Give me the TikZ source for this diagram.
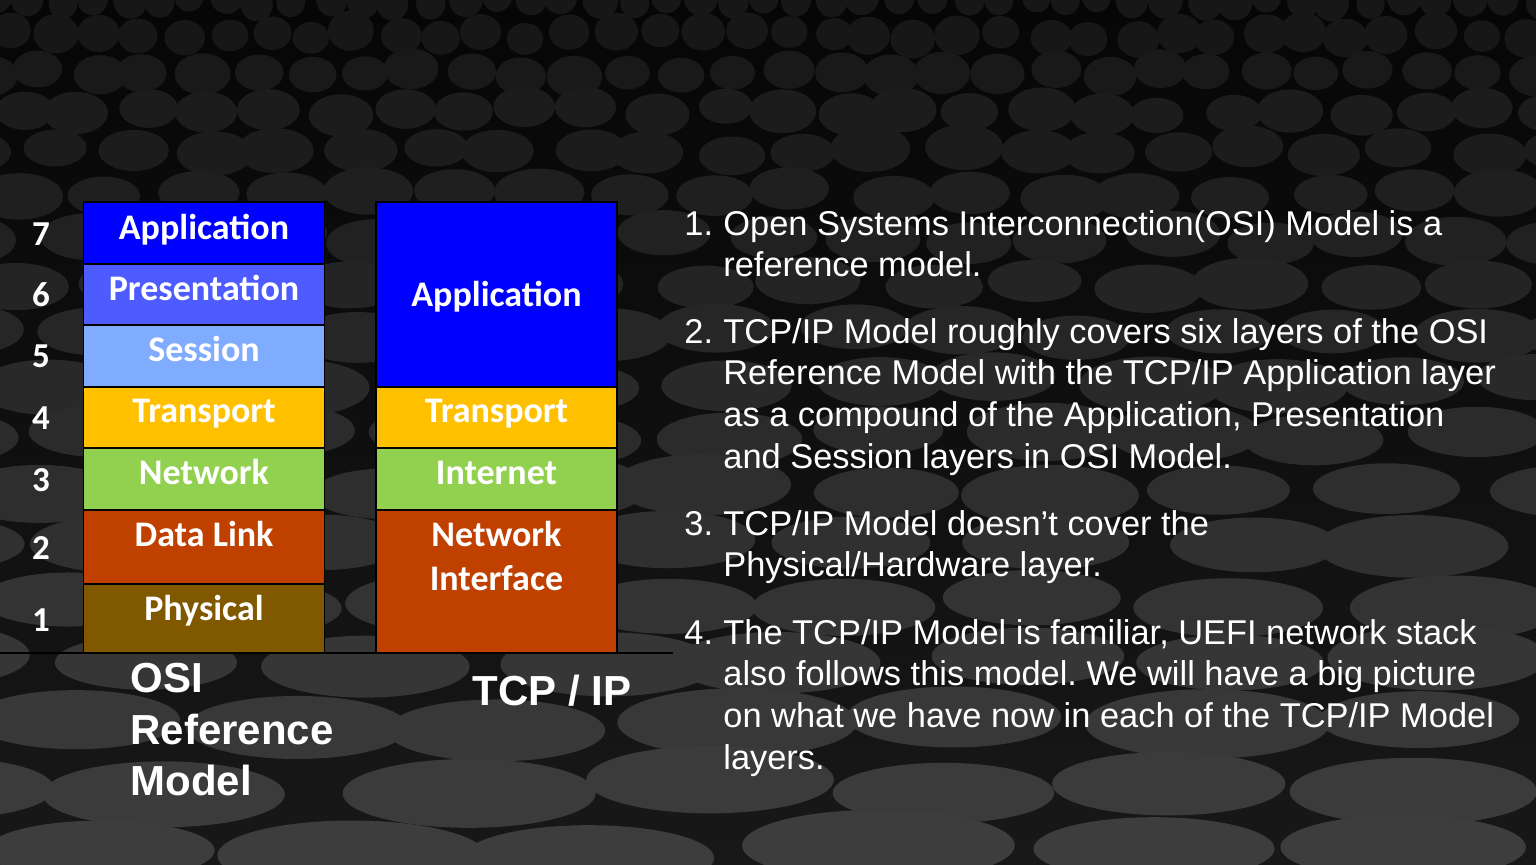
\documentclass[tikz,border=0pt]{standalone}
\usepackage{fontspec}
\setmainfont{Liberation Sans}
\newfontfamily\calfont{Carlito}
\frenchspacing
\begin{document}
% one unit = one pixel of a 1536 x 864 slide, y grows downwards
\begin{tikzpicture}[x=0.5pt,y=-0.5pt,
  layerbox/.style={draw=black, line width=0.6pt, inner sep=0pt, outer sep=0pt, minimum width=120.5pt},
  layertext/.style={text=white, font=\calfont\bfseries\fontsize{18}{21}\selectfont, anchor=base, inner sep=0pt},
  numtext/.style={text=white, font=\calfont\bfseries\fontsize{17.5}{21}\selectfont, anchor=base, inner sep=0pt},
  captext/.style={text=white, font=\bfseries\fontsize{21}{25.7}\selectfont, anchor=base west, inner sep=0pt},
  itemnum/.style={text=white, font=\fontsize{17.2}{20.85}\selectfont, anchor=base west, inner sep=0pt},
  itembody/.style={text=white, anchor=base west, inner sep=0pt}]
\definecolor{appblue}{HTML}{0000FF}
\definecolor{presblue}{HTML}{4D5BFF}
\definecolor{sessblue}{HTML}{80ACFF}
\definecolor{transyellow}{HTML}{FFC000}
\definecolor{netgreen}{HTML}{92D050}
\definecolor{linkred}{HTML}{C04000}
\definecolor{physbrown}{HTML}{7F5800}
\definecolor{bgtop}{HTML}{060606}
\definecolor{bgbottom}{HTML}{181818}

% ---- textured backdrop: rows of discs growing towards the viewer ----
\useasboundingbox (0,0) rectangle (1536,864);
\begin{scope}
\clip (0,0) rectangle (1536,864);
\shade[top color=bgtop, bottom color=bgbottom] (0,0) rectangle (1536,864);
\pgfmathsetseed{4711}
\foreach \k in {0,...,19}{
  \pgfmathsetmacro\yy{34*\k+0.95*\k*\k}
  \pgfmathsetmacro\ry{0.5*(34+1.9*\k)}
  \pgfmathsetmacro\rx{16+0.13*\yy}
  \pgfmathtruncatemacro\g{9+16*\yy/864}
  \pgfmathtruncatemacro\nc{1536/(2.1*\rx)+2}
  \pgfmathsetmacro\shift{mod(\k,2)*1.05*\rx-0.5*\rx}
  \foreach \c in {0,...,\nc}{
    \pgfmathsetmacro\jx{\c*2.1*\rx+\shift+0.3*\rx*rand}
    \pgfmathsetmacro\jy{\yy+0.25*\ry*rand}
    \pgfmathsetmacro\sc{1+0.12*rand}
    \fill[white!\g!black] (\jx,\jy) ellipse [x radius=\sc*\rx, y radius=\sc*\ry];
  }
}
\end{scope}

% ---- OSI reference model stack ----
\node[layerbox, fill=appblue,     minimum height=31pt]   (osi7) at (204,233)   {};
\node[layerbox, fill=presblue,    minimum height=30.5pt] (osi6) at (204,294.5) {};
\node[layerbox, fill=sessblue,    minimum height=31pt]   (osi5) at (204,356)   {};
\node[layerbox, fill=transyellow, minimum height=30.5pt] (osi4) at (204,417.5) {};
\node[layerbox, fill=netgreen,    minimum height=31pt]   (osi3) at (204,479)   {};
\node[layerbox, fill=linkred,     minimum height=37pt]   (osi2) at (204,547)   {};
\node[layerbox, fill=physbrown,   minimum height=34.5pt] (osi1) at (204,618.5) {};

\node[layertext] (osi7t) at (204,239) {Application};
\node[layertext] (osi6t) at (204,300) {Presentation};
\node[layertext] (osi5t) at (204,361.5) {Session};
\node[layertext] (osi4t) at (204,422) {Transport};
\node[layertext] (osi3t) at (204,484) {Network};
\node[layertext] (osi2t) at (204,546) {Data Link};
\node[layertext] (osi1t) at (204,620) {Physical};

\node[numtext] (n7) at (41,245) {7};
\node[numtext] (n6) at (41,306.5) {6};
\node[numtext] (n5) at (41,367) {5};
\node[numtext] (n4) at (41,429) {4};
\node[numtext] (n3) at (41,491.5) {3};
\node[numtext] (n2) at (41,559) {2};
\node[numtext] (n1) at (41,631.5) {1};

% ---- TCP/IP stack ----
\node[layerbox, fill=appblue,     minimum height=92.5pt] (tcp4) at (496.5,294.5) {};
\node[layerbox, fill=transyellow, minimum height=30.5pt] (tcp3) at (496.5,417.5) {};
\node[layerbox, fill=netgreen,    minimum height=31pt]   (tcp2) at (496.5,479)   {};
\node[layerbox, fill=linkred,     minimum height=71.5pt] (tcp1) at (496.5,581.5) {};

\node[layertext] (tcp4t) at (496.5,306.5) {Application};
\node[layertext] (tcp3t) at (496.5,422) {Transport};
\node[layertext] (tcp2t) at (496.5,484) {Internet};
\node[layertext] (tcp1t) at (496.5,546) {Network};
\node[layertext] (tcp1u) at (496.5,590) {Interface};

% ground line under both stacks
\coordinate (baseL) at (0,653);
\coordinate (baseR) at (673,653);
\draw[black, line width=0.6pt] (baseL) -- (baseR);

% ---- captions ----
\node[captext] (capa) at (130,692) {OSI};
\node[captext] (capb) at (130,744) {Reference};
\node[captext] (capc) at (130,795) {Model};
\node[captext] (capd) at (472,705) {TCP / IP};

% ---- numbered notes ----
\def\notebox#1{\parbox[t]{420pt}{\fontsize{17.2}{20.85}\selectfont #1}}
\node[itemnum] (i1) at (684,235) {1.};
\node[itembody] (t1) at (723,235) {\notebox{Open Systems Interconnection(OSI) Model is a\\reference model.}};
\node[itemnum] (i2) at (684,343) {2.};
\node[itembody] (t2) at (723,343) {\notebox{TCP/IP Model roughly covers six layers of the OSI\\Reference Model with the TCP/IP Application layer\\as a compound of the Application, Presentation\\and Session layers in OSI Model.}};
\node[itemnum] (i3) at (684,535) {3.};
\node[itembody] (t3) at (723,535) {\notebox{TCP/IP Model doesn’t cover the\\Physical/Hardware layer.}};
\node[itemnum] (i4) at (684,644) {4.};
\node[itembody] (t4) at (723,644) {\notebox{The TCP/IP Model is familiar, UEFI network stack\\also follows this model. We will have a big picture\\on what we have now in each of the TCP/IP Model\\layers.}};
\end{tikzpicture}
\end{document}
